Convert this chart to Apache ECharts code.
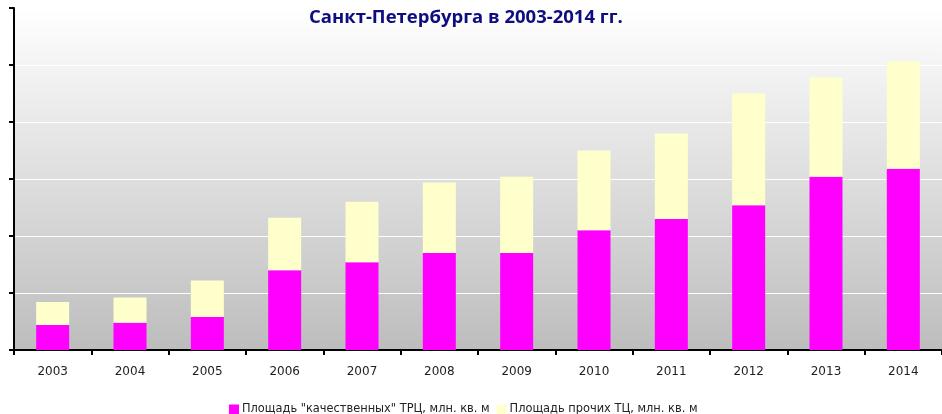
<!DOCTYPE html>
<html>
<head>
<meta charset="utf-8">
<script src="https://cdn.jsdelivr.net/npm/echarts@6/dist/echarts.min.js"></script>
<style>
  html, body { margin: 0; padding: 0; background: #fff; }
  #chart { width: 942px; height: 414px; }
</style>
</head>
<body>
<div id="chart"></div>
<script>
// годы и площади, млн. кв. м
var years = ['2003', '2004', '2005', '2006', '2007', '2008', '2009', '2010', '2011', '2012', '2013', '2014'];
var qualityMalls = [0.22, 0.24, 0.29, 0.70, 0.77, 0.85, 0.85, 1.05, 1.15, 1.27, 1.52, 1.59];
var otherMalls = [0.20, 0.22, 0.32, 0.46, 0.53, 0.62, 0.67, 0.70, 0.75, 0.98, 0.87, 0.94];
var seriesNames = ['Площадь "качественных" ТРЦ, млн. кв. м', 'Площадь прочих ТЦ, млн. кв. м'];

var chart = echarts.init(document.getElementById('chart'));

var option = {
  animation: false,
  title: {
    text: 'Санкт-Петербурга в 2003-2014 гг.',
    left: 304,
    top: 3,
    textStyle: {
      fontFamily: 'Open Sans',
      fontWeight: 'bold',
      fontSize: 18.5,
      color: '#0d0d80'
    }
  },
  legend: {
    top: 399,
    left: 224,
    itemWidth: 10,
    itemHeight: 10,
    itemGap: 7,
    icon: 'rect',
    textStyle: { fontFamily: 'DejaVu Sans', fontSize: 11.4, color: '#222', padding: [0, 0, 0, -2] },
    data: seriesNames
  },
  grid: {
    left: 14,
    right: 0,
    top: 8,
    bottom: 64,
    show: true,
    borderWidth: 0,
    backgroundColor: new echarts.graphic.LinearGradient(0, 0, 0, 1, [
      { offset: 0, color: '#ffffff' },
      { offset: 1, color: '#bdbdbd' }
    ])
  },
  xAxis: {
    type: 'category',
    data: years,
    axisLine: { lineStyle: { color: '#000', width: 2 } },
    axisTick: { show: true, length: 5, lineStyle: { color: '#000', width: 2 } },
    axisLabel: { fontFamily: 'DejaVu Sans', fontSize: 12, color: '#222', margin: 16 }
  },
  yAxis: {
    type: 'value',
    min: 0,
    max: 3,
    interval: 0.5,
    axisLine: { show: true, lineStyle: { color: '#000', width: 2 } },
    axisTick: { show: true, length: 5, lineStyle: { color: '#000', width: 2 } },
    axisLabel: { show: false },
    splitLine: { lineStyle: { color: '#ffffff', width: 1 } }
  },
  series: [{
    name: seriesNames[0],
    type: 'bar',
    stack: 'area',
    barWidth: 33,
    data: qualityMalls,
    itemStyle: { color: '#ff00ff' }
  }, {
    name: seriesNames[1],
    type: 'bar',
    stack: 'area',
    barWidth: 33,
    data: otherMalls,
    itemStyle: { color: '#ffffcc' }
  }]
};

chart.setOption(option);
</script>
</body>
</html>
